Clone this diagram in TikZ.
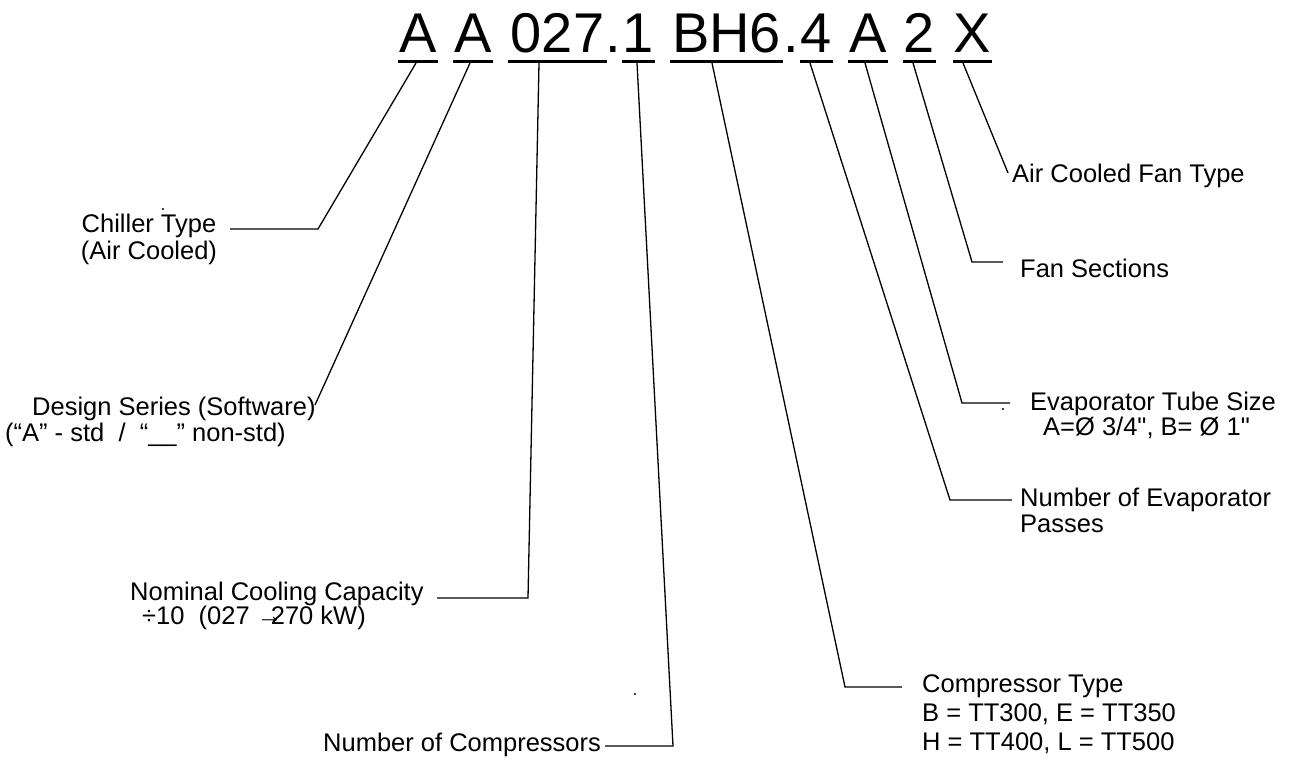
\documentclass[tikz,border=0pt]{standalone}
\usepackage{fontspec}
\setmainfont{Liberation Sans}
\newfontfamily\rawsans{Liberation Sans}[Ligatures=TeXOff]
\begin{document}
\begin{tikzpicture}[x=1pt,y=-1pt,
  code/.style={font=\fontsize{56}{60}\selectfont, inner sep=0pt, anchor=base},
  lab/.style={font=\fontsize{25.5}{30}\selectfont, inner sep=0pt, anchor=base west},
  labc/.style={font=\fontsize{25.5}{30}\selectfont, inner sep=0pt, anchor=base},
  uline/.style={line width=3pt},
  conn/.style={line width=1.3pt, line join=miter},
  speck/.style={fill=black}]
\useasboundingbox (0,0) rectangle (1299,762);

% code characters
\node[code] (cA1) at (418,53) {A};
\node[code] (cA2) at (473,53) {A};
\node[code] (c027) at (557.5,53) {027};
\node[code] (cdot1) at (613.5,53) {.};
\node[code] (c1) at (638.5,53) {1};
\node[code] (cBH6) at (726.5,53) {BH6};
\node[code] (cdot2) at (791.5,53) {.};
\node[code] (c4) at (816.5,53) {4};
\node[code] (cA3) at (868,53) {A};
\node[code] (c2) at (919.5,53) {2};
\node[code] (cX) at (972.5,53) {X};

% underlines
\draw[uline] (398,62) -- (438,62);
\draw[uline] (453,62) -- (493,62);
\draw[uline] (508,62) -- (607,62);
\draw[uline] (622,62) -- (655,62);
\draw[uline] (670,62) -- (783,62);
\draw[uline] (800,62) -- (833,62);
\draw[uline] (848,62) -- (888,62);
\draw[uline] (903,62) -- (936,62);
\draw[uline] (953,62) -- (992,62);

% labels
\node[labc] (lChiller) at (149,233) {Chiller Type};
\node[labc] (lChiller2) at (149,259) {(Air Cooled)};
\node[lab] (lDesign) at (32,415) {Design Series (Software)};
\node[lab] (lDesign2) at (5,441) {(“A” - std\ \ /\ \ “\_\_” non-std)};
\node[lab] (lNom) at (130,600) {Nominal Cooling Capacity};
\node[lab] (lNom2) at (142,624) {÷10\ \ (027 →\kern-0.45em 270 kW)};
\node[lab] (lNumC) at (323,751) {Number of Compressors};
\node[lab] (lComp) at (922,692) {Compressor Type};
\node[lab] (lComp2) at (922,721) {B = TT300, E = TT350};
\node[lab] (lComp3) at (922,750) {H = TT400, L = TT500};
\node[lab] (lPass) at (1020,506) {Number of Evaporator};
\node[lab] (lPass2) at (1020,532) {Passes};
\node[lab] (lTube) at (1030,410) {Evaporator Tube Size};
\node[lab] (lTube2) at (1043,435) {\rawsans A=Ø 3/4", B= Ø 1"};
\node[lab] (lFan) at (1020,277) {Fan Sections};
\node[lab] (lFanT) at (1012,183) {Air Cooled Fan Type};

% connector coordinates
\coordinate (u1) at (416,63); \coordinate (k1) at (318,229); \coordinate (e1) at (230,229);
\coordinate (u2) at (470,63); \coordinate (e2) at (315,405);
\coordinate (u3) at (539,63); \coordinate (k3) at (528,598); \coordinate (e3) at (437,598);
\coordinate (u4) at (637,63); \coordinate (k4) at (673,746); \coordinate (e4) at (605,746);
\coordinate (u5) at (712,63); \coordinate (k5) at (845,687); \coordinate (e5) at (902,687);
\coordinate (u6) at (810,63); \coordinate (k6) at (950,500); \coordinate (e6) at (1012,500);
\coordinate (u7) at (865,63); \coordinate (k7) at (962,403); \coordinate (e7) at (1010,403);
\coordinate (u8) at (913,63); \coordinate (k8) at (972,262); \coordinate (e8) at (1003,262);
\coordinate (u9) at (963,63); \coordinate (e9) at (1008,173);

\draw[conn] (u1) -- (k1) -- (e1);
\draw[conn] (u2) -- (e2);
\draw[conn] (u3) -- (k3) -- (e3);
\draw[conn] (u4) -- (k4) -- (e4);
\draw[conn] (u5) -- (k5) -- (e5);
\draw[conn] (u6) -- (k6) -- (e6);
\draw[conn] (u7) -- (k7) -- (e7);
\draw[conn] (u8) -- (k8) -- (e8);
\draw[conn] (u9) -- (e9);

% stray specks
\fill[speck] (163,209) circle (1.2);
\fill[speck] (635,694) circle (1.2);
\fill[speck] (1003,409) circle (1.2);
\end{tikzpicture}
\end{document}
